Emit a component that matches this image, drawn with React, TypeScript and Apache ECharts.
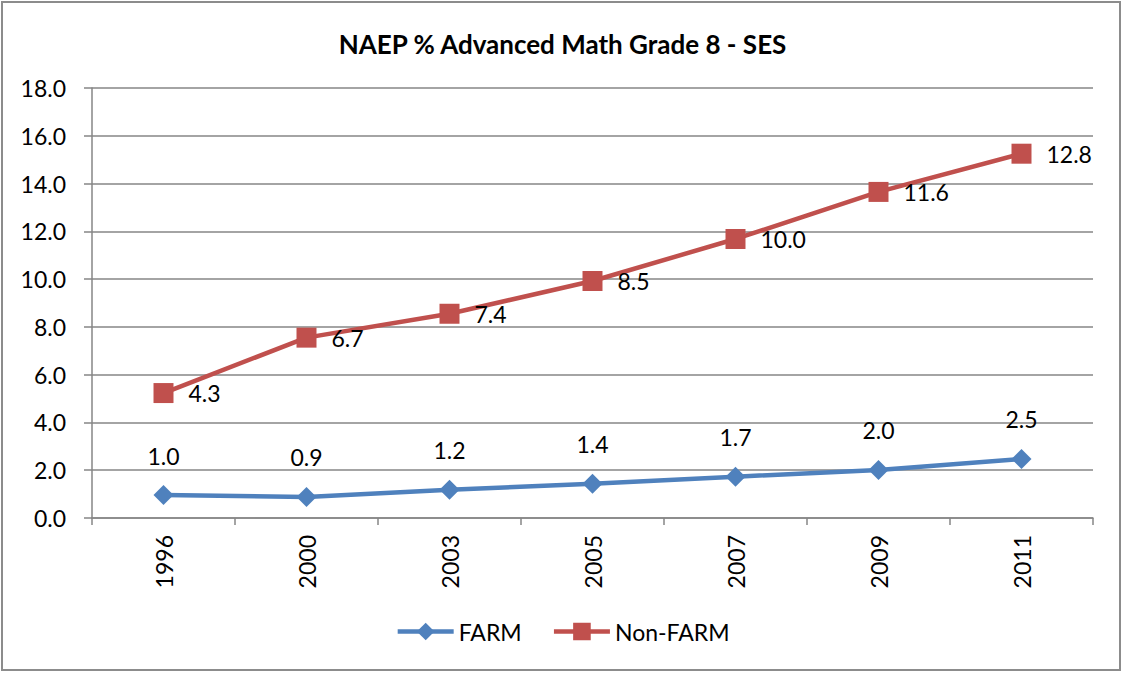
import React, { useEffect, useRef } from "react";
import * as echarts from "echarts";

const years = ["1996", "2000", "2003", "2005", "2007", "2009", "2011"];
const farmValues = [0.96, 0.88, 1.18, 1.43, 1.73, 2.01, 2.47];
const nonFarmValues = [5.23, 7.55, 8.55, 9.92, 11.68, 13.65, 15.25];
const nonFarmLabels = ["4.3", "6.7", "7.4", "8.5", "10.0", "11.6", "12.8"];
const yTicks = { min: 0, max: 18, interval: 2 };

const FONT = "Lato, 'Noto Sans', sans-serif";
const FS = 23;

export default function App() {
  const ref = useRef<HTMLDivElement>(null);
  useEffect(() => {
    if (!ref.current) return;
    const chart = echarts.init(ref.current, undefined, { renderer: "svg" });
    chart.setOption({
      animation: false,
      backgroundColor: "#ffffff",
      textStyle: { fontFamily: FONT, color: "#000" },
      title: {
        text: "NAEP % Advanced Math Grade 8 - SES",
        left: "center",
        top: 26,
        textStyle: { fontFamily: FONT, fontSize: 26, fontWeight: "bold", color: "#000" },
      },
      graphic: [
        {
          type: "rect",
          shape: { x: 2, y: 2, width: 1118, height: 668 },
          style: { fill: "none", stroke: "#8c8c8c", lineWidth: 2 },
          silent: true,
        },
      ],
      legend: {
        bottom: 25,
        left: "center",
        itemWidth: 56,
        itemHeight: 22,
        itemGap: 30,
        lineStyle: { width: 4.5 },
        textStyle: { fontFamily: FONT, fontSize: FS, color: "#000" },
        data: ["FARM", "Non-FARM"],
      },
      grid: { left: 92, right: 32, top: 88, bottom: 155 },
      xAxis: {
        type: "category",
        data: years,
        boundaryGap: true,
        axisLine: { lineStyle: { color: "#868686", width: 1.5 } },
        axisTick: { show: true, length: 7, lineStyle: { color: "#868686", width: 1.5 } },
        axisLabel: { rotate: 90, margin: 17, fontSize: FS, color: "#000", fontFamily: FONT },
        splitLine: { show: false },
      },
      yAxis: {
        type: "value",
        min: yTicks.min,
        max: yTicks.max,
        interval: yTicks.interval,
        axisLine: { show: true, lineStyle: { color: "#868686", width: 1.5 } },
        axisTick: { show: true, length: 8, lineStyle: { color: "#868686", width: 1.5 } },
        axisLabel: {
          margin: 26,
          fontSize: FS,
          color: "#000",
          fontFamily: FONT,
          formatter: (v: number) => v.toFixed(1),
        },
        splitLine: { show: true, lineStyle: { color: "#868686", width: 1.5 } },
      },
      series: [
        {
          name: "FARM",
          type: "line",
          data: farmValues,
          symbol: "diamond",
          symbolSize: 20,
          lineStyle: { color: "#4f81bd", width: 4.5 },
          itemStyle: { color: "#4f81bd" },
          label: {
            show: true,
            position: "top",
            distance: 18,
            fontSize: FS,
            color: "#000",
            fontFamily: FONT,
            formatter: (p: any) => Number(p.value).toFixed(1),
          },
        },
        {
          name: "Non-FARM",
          type: "line",
          data: nonFarmValues,
          symbol: "rect",
          symbolSize: 20,
          lineStyle: { color: "#c0504d", width: 4.5 },
          itemStyle: { color: "#c0504d" },
          label: {
            show: true,
            position: "right",
            distance: 15,
            fontSize: FS,
            color: "#000",
            fontFamily: FONT,
            formatter: (p: any) => nonFarmLabels[p.dataIndex],
          },
        },
      ],
    });
    return () => chart.dispose();
  }, []);
  return (
    <div
      ref={ref}
      style={{ position: "fixed", left: 0, top: 0, width: 1125, height: 673 }}
    />
  );
}
